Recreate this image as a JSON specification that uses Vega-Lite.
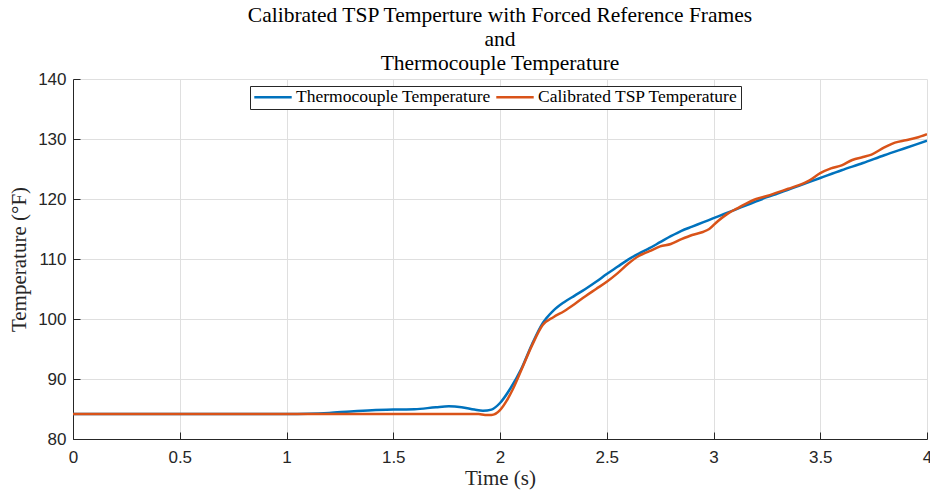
{
  "$schema": "https://vega.github.io/schema/vega-lite/v6.json",
  "autosize": "none",
  "width": 854,
  "height": 360,
  "padding": {"left": 73, "top": 79, "right": 3, "bottom": 54},
  "background": "white",
  "title": {
    "text": ["Calibrated TSP Temperture with Forced Reference Frames", "and", "Thermocouple Temperature"],
    "font": "Liberation Serif",
    "fontSize": 21.5,
    "fontWeight": "normal",
    "color": "#000000",
    "lineHeight": 24,
    "anchor": "middle",
    "frame": "group",
    "offset": -4
  },
  "config": {
    "view": {"stroke": null},
    "axis": {
      "labelFont": "Liberation Sans",
      "labelFontSize": 17,
      "labelColor": "#262626",
      "titleFont": "Liberation Serif",
      "titleFontSize": 21,
      "titleFontWeight": "normal",
      "titleColor": "#262626",
      "domainColor": "#262626",
      "domainWidth": 1,
      "tickColor": "#262626",
      "gridColor": "#dfdfdf",
      "gridWidth": 1,
      "labelFlush": false
    }
  },
  "data": {
    "values": [
      {"t": 0, "temp": 84.15, "series": "Thermocouple Temperature"},
      {"t": 0.5, "temp": 84.15, "series": "Thermocouple Temperature"},
      {"t": 1.0, "temp": 84.15, "series": "Thermocouple Temperature"},
      {"t": 1.1, "temp": 84.2, "series": "Thermocouple Temperature"},
      {"t": 1.2, "temp": 84.35, "series": "Thermocouple Temperature"},
      {"t": 1.3, "temp": 84.6, "series": "Thermocouple Temperature"},
      {"t": 1.4, "temp": 84.8, "series": "Thermocouple Temperature"},
      {"t": 1.5, "temp": 84.9, "series": "Thermocouple Temperature"},
      {"t": 1.6, "temp": 84.95, "series": "Thermocouple Temperature"},
      {"t": 1.7, "temp": 85.3, "series": "Thermocouple Temperature"},
      {"t": 1.76, "temp": 85.45, "series": "Thermocouple Temperature"},
      {"t": 1.82, "temp": 85.3, "series": "Thermocouple Temperature"},
      {"t": 1.88, "temp": 84.9, "series": "Thermocouple Temperature"},
      {"t": 1.92, "temp": 84.7, "series": "Thermocouple Temperature"},
      {"t": 1.96, "temp": 84.9, "series": "Thermocouple Temperature"},
      {"t": 2.0, "temp": 86.0, "series": "Thermocouple Temperature"},
      {"t": 2.05, "temp": 88.5, "series": "Thermocouple Temperature"},
      {"t": 2.1, "temp": 91.7, "series": "Thermocouple Temperature"},
      {"t": 2.15, "temp": 95.8, "series": "Thermocouple Temperature"},
      {"t": 2.2, "temp": 99.3, "series": "Thermocouple Temperature"},
      {"t": 2.25, "temp": 101.4, "series": "Thermocouple Temperature"},
      {"t": 2.3, "temp": 102.8, "series": "Thermocouple Temperature"},
      {"t": 2.35, "temp": 103.9, "series": "Thermocouple Temperature"},
      {"t": 2.4, "temp": 105.0, "series": "Thermocouple Temperature"},
      {"t": 2.45, "temp": 106.2, "series": "Thermocouple Temperature"},
      {"t": 2.5, "temp": 107.5, "series": "Thermocouple Temperature"},
      {"t": 2.55, "temp": 108.7, "series": "Thermocouple Temperature"},
      {"t": 2.6, "temp": 109.9, "series": "Thermocouple Temperature"},
      {"t": 2.65, "temp": 110.9, "series": "Thermocouple Temperature"},
      {"t": 2.7, "temp": 111.8, "series": "Thermocouple Temperature"},
      {"t": 2.75, "temp": 112.8, "series": "Thermocouple Temperature"},
      {"t": 2.8, "temp": 113.8, "series": "Thermocouple Temperature"},
      {"t": 2.85, "temp": 114.7, "series": "Thermocouple Temperature"},
      {"t": 2.9, "temp": 115.4, "series": "Thermocouple Temperature"},
      {"t": 2.95, "temp": 116.1, "series": "Thermocouple Temperature"},
      {"t": 3.0, "temp": 116.8, "series": "Thermocouple Temperature"},
      {"t": 3.05, "temp": 117.5, "series": "Thermocouple Temperature"},
      {"t": 3.1, "temp": 118.2, "series": "Thermocouple Temperature"},
      {"t": 3.15, "temp": 118.9, "series": "Thermocouple Temperature"},
      {"t": 3.2, "temp": 119.6, "series": "Thermocouple Temperature"},
      {"t": 3.25, "temp": 120.3, "series": "Thermocouple Temperature"},
      {"t": 3.3, "temp": 120.9, "series": "Thermocouple Temperature"},
      {"t": 3.4, "temp": 122.2, "series": "Thermocouple Temperature"},
      {"t": 3.5, "temp": 123.5, "series": "Thermocouple Temperature"},
      {"t": 3.6, "temp": 124.8, "series": "Thermocouple Temperature"},
      {"t": 3.7, "temp": 126.0, "series": "Thermocouple Temperature"},
      {"t": 3.8, "temp": 127.3, "series": "Thermocouple Temperature"},
      {"t": 3.9, "temp": 128.5, "series": "Thermocouple Temperature"},
      {"t": 4.0, "temp": 129.7, "series": "Thermocouple Temperature"},
      {"t": 0, "temp": 84.15, "series": "Calibrated TSP Temperature"},
      {"t": 1.0, "temp": 84.15, "series": "Calibrated TSP Temperature"},
      {"t": 1.9, "temp": 84.15, "series": "Calibrated TSP Temperature"},
      {"t": 1.93, "temp": 84.0, "series": "Calibrated TSP Temperature"},
      {"t": 1.96, "temp": 84.0, "series": "Calibrated TSP Temperature"},
      {"t": 2.0, "temp": 84.8, "series": "Calibrated TSP Temperature"},
      {"t": 2.03, "temp": 86.3, "series": "Calibrated TSP Temperature"},
      {"t": 2.06, "temp": 88.3, "series": "Calibrated TSP Temperature"},
      {"t": 2.1, "temp": 91.5, "series": "Calibrated TSP Temperature"},
      {"t": 2.15, "temp": 95.6, "series": "Calibrated TSP Temperature"},
      {"t": 2.2, "temp": 99.0, "series": "Calibrated TSP Temperature"},
      {"t": 2.25, "temp": 100.3, "series": "Calibrated TSP Temperature"},
      {"t": 2.3, "temp": 101.3, "series": "Calibrated TSP Temperature"},
      {"t": 2.35, "temp": 102.5, "series": "Calibrated TSP Temperature"},
      {"t": 2.4, "temp": 103.8, "series": "Calibrated TSP Temperature"},
      {"t": 2.45, "temp": 105.0, "series": "Calibrated TSP Temperature"},
      {"t": 2.5, "temp": 106.2, "series": "Calibrated TSP Temperature"},
      {"t": 2.55, "temp": 107.6, "series": "Calibrated TSP Temperature"},
      {"t": 2.6, "temp": 109.2, "series": "Calibrated TSP Temperature"},
      {"t": 2.65, "temp": 110.5, "series": "Calibrated TSP Temperature"},
      {"t": 2.7, "temp": 111.3, "series": "Calibrated TSP Temperature"},
      {"t": 2.75, "temp": 112.1, "series": "Calibrated TSP Temperature"},
      {"t": 2.8, "temp": 112.5, "series": "Calibrated TSP Temperature"},
      {"t": 2.85, "temp": 113.3, "series": "Calibrated TSP Temperature"},
      {"t": 2.9, "temp": 114.0, "series": "Calibrated TSP Temperature"},
      {"t": 2.95, "temp": 114.5, "series": "Calibrated TSP Temperature"},
      {"t": 2.98, "temp": 115.0, "series": "Calibrated TSP Temperature"},
      {"t": 3.02, "temp": 116.3, "series": "Calibrated TSP Temperature"},
      {"t": 3.06, "temp": 117.4, "series": "Calibrated TSP Temperature"},
      {"t": 3.12, "temp": 118.6, "series": "Calibrated TSP Temperature"},
      {"t": 3.2, "temp": 120.0, "series": "Calibrated TSP Temperature"},
      {"t": 3.25, "temp": 120.5, "series": "Calibrated TSP Temperature"},
      {"t": 3.3, "temp": 121.1, "series": "Calibrated TSP Temperature"},
      {"t": 3.35, "temp": 121.7, "series": "Calibrated TSP Temperature"},
      {"t": 3.4, "temp": 122.3, "series": "Calibrated TSP Temperature"},
      {"t": 3.45, "temp": 123.1, "series": "Calibrated TSP Temperature"},
      {"t": 3.5, "temp": 124.3, "series": "Calibrated TSP Temperature"},
      {"t": 3.55, "temp": 125.1, "series": "Calibrated TSP Temperature"},
      {"t": 3.6, "temp": 125.6, "series": "Calibrated TSP Temperature"},
      {"t": 3.65, "temp": 126.5, "series": "Calibrated TSP Temperature"},
      {"t": 3.7, "temp": 127.0, "series": "Calibrated TSP Temperature"},
      {"t": 3.74, "temp": 127.4, "series": "Calibrated TSP Temperature"},
      {"t": 3.8, "temp": 128.6, "series": "Calibrated TSP Temperature"},
      {"t": 3.85, "temp": 129.4, "series": "Calibrated TSP Temperature"},
      {"t": 3.9, "temp": 129.8, "series": "Calibrated TSP Temperature"},
      {"t": 3.95, "temp": 130.2, "series": "Calibrated TSP Temperature"},
      {"t": 4.0, "temp": 130.8, "series": "Calibrated TSP Temperature"}
    ]
  },
  "mark": {"type": "line", "strokeWidth": 2.5, "interpolate": "monotone", "clip": true},
  "encoding": {
    "x": {
      "field": "t",
      "type": "quantitative",
      "scale": {"domain": [0, 4], "nice": false},
      "axis": {
        "title": "Time (s)",
        "values": [0, 0.5, 1, 1.5, 2, 2.5, 3, 3.5, 4],
        "format": "~g",
        "tickSize": -7,
        "labelPadding": 17,
        "titlePadding": 2
      }
    },
    "y": {
      "field": "temp",
      "type": "quantitative",
      "scale": {"domain": [80, 140], "nice": false, "zero": false},
      "axis": {
        "title": "Temperature (°F)",
        "values": [80, 90, 100, 110, 120, 130, 140],
        "tickSize": -7,
        "labelPadding": 14,
        "titlePadding": 8
      }
    },
    "color": {
      "field": "series",
      "type": "nominal",
      "scale": {
        "domain": ["Thermocouple Temperature", "Calibrated TSP Temperature"],
        "range": ["#0072BD", "#D95319"]
      },
      "legend": {
        "title": null,
        "orient": "none",
        "legendX": 177,
        "legendY": 7,
        "direction": "horizontal",
        "symbolType": "stroke",
        "symbolSize": 1400,
        "symbolStrokeWidth": 2.5,
        "clipHeight": 16,
        "labelFont": "Liberation Serif",
        "labelFontSize": 17.5,
        "labelLimit": 0,
        "labelColor": "#000000",
        "labelOffset": 3,
        "columnPadding": 4,
        "padding": 3,
        "strokeColor": "#262626",
        "fillColor": "white",
        "cornerRadius": 0
      }
    }
  }
}
